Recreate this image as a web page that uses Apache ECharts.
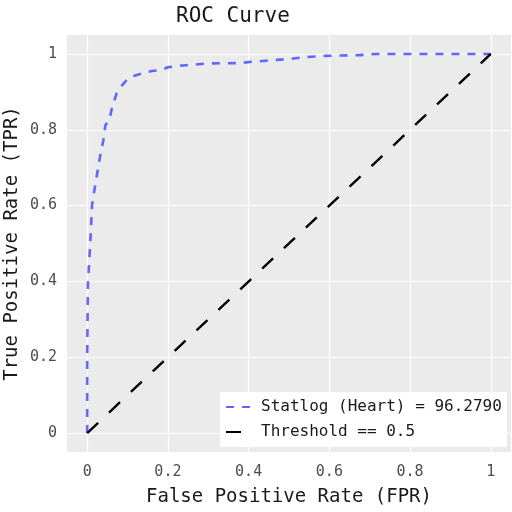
<!DOCTYPE html>
<html><head><meta charset="utf-8">
<script src="https://cdn.jsdelivr.net/npm/echarts@6/dist/echarts.min.js"></script>
<style>html,body{margin:0;padding:0;background:#fff}#c{width:512px;height:512px}</style>
</head><body><div id="c"></div>
<script>
var rocFpr = [0,0,0.002,0.005,0.009,0.012,0.017,0.024,0.032,0.04,0.045,0.055,0.061,0.065,0.073,0.082,0.102,0.115,0.144,0.16,0.185,0.2,0.23,0.3,0.38,0.403,0.457,0.503,0.544,0.589,0.63,0.676,0.717,1];
var rocTpr = [0,0.2,0.4,0.45,0.53,0.6,0.635,0.68,0.73,0.772,0.812,0.825,0.856,0.87,0.896,0.912,0.936,0.942,0.951,0.955,0.958,0.965,0.969,0.975,0.976,0.979,0.983,0.987,0.992,0.995,0.996,0.997,1,1];
var thrFpr = [0,1];
var thrTpr = [0,1];
var tickValues = [0,0.2,0.4,0.6,0.8,1];
var seriesNames = ['Statlog (Heart) = 96.2790','Threshold == 0.5'];
var titleText = 'ROC Curve';
var xName = 'False Positive Rate (FPR)';
var yName = 'True Positive Rate (TPR)';

var font = 'DejaVu Sans Mono';
function pairs(xs, ys){ return xs.map(function(x,i){ return [x, ys[i]]; }); }
var gridLines = [];
tickValues.forEach(function(v){ gridLines.push({xAxis:v}); gridLines.push({yAxis:v}); });

var chart = echarts.init(document.getElementById('c'), null, {renderer:'canvas'});
chart.setOption({
  animation:false,
  backgroundColor:'#fff',
  title:{text:titleText,left:171,top:1,textStyle:{fontFamily:font,fontSize:21,fontWeight:'normal',color:'#1a1a1a'}},
  grid:{left:67,right:1,top:35,bottom:60,show:true,backgroundColor:'#EBEBEB',borderWidth:0,
    containLabel:false,outerBoundsMode:'none'},
  legend:{
    data:seriesNames,orient:'vertical',left:220,top:392,z:20,
    backgroundColor:'#fff',padding:[6,5,6,5],itemWidth:26,itemHeight:18,itemGap:7,
    borderRadius:0,
    itemStyle:{opacity:0},
    textStyle:{fontFamily:font,fontSize:16,color:'#1a1a1a',lineHeight:18,padding:[0,0,0,4]}
  },
  xAxis:{type:'value',min:-0.05,max:1.05,
    name:xName,nameLocation:'middle',nameGap:36,nameMoveOverlap:false,
    nameTextStyle:{fontFamily:font,fontSize:19,color:'#1a1a1a'},
    axisLine:{show:false},
    axisTick:{show:true,length:4,customValues:tickValues,lineStyle:{color:'#333',width:1}},
    axisLabel:{customValues:tickValues,margin:13,fontFamily:font,fontSize:15,color:'#4d4d4d'},
    splitLine:{show:false}},
  yAxis:{type:'value',min:-0.05,max:1.05,
    name:yName,nameLocation:'middle',nameGap:45,nameMoveOverlap:false,
    nameTextStyle:{fontFamily:font,fontSize:19,color:'#1a1a1a'},
    axisLine:{show:false},
    axisTick:{show:true,length:4,customValues:tickValues,lineStyle:{color:'#333',width:1}},
    axisLabel:{customValues:tickValues,margin:10,fontFamily:font,fontSize:15,color:'#4d4d4d'},
    splitLine:{show:false}},
  series:[
    {type:'line',name:'grid',data:[],z:1,silent:true,
      markLine:{silent:true,z:1,symbol:'none',label:{show:false},animation:false,
        lineStyle:{color:'#fff',width:1.2,type:'solid'},data:gridLines}},
    {type:'line',name:seriesNames[0],data:pairs(rocFpr,rocTpr),symbol:'none',z:10,
      lineStyle:{color:'#6166FF',width:2.6,type:[8,8]},itemStyle:{color:'#6166FF'}},
    {type:'line',name:seriesNames[1],data:pairs(thrFpr,thrTpr),symbol:'none',z:10,
      lineStyle:{color:'#000',width:2.4,type:[15,15]},itemStyle:{color:'#000'}}
  ]
});
</script></body></html>
